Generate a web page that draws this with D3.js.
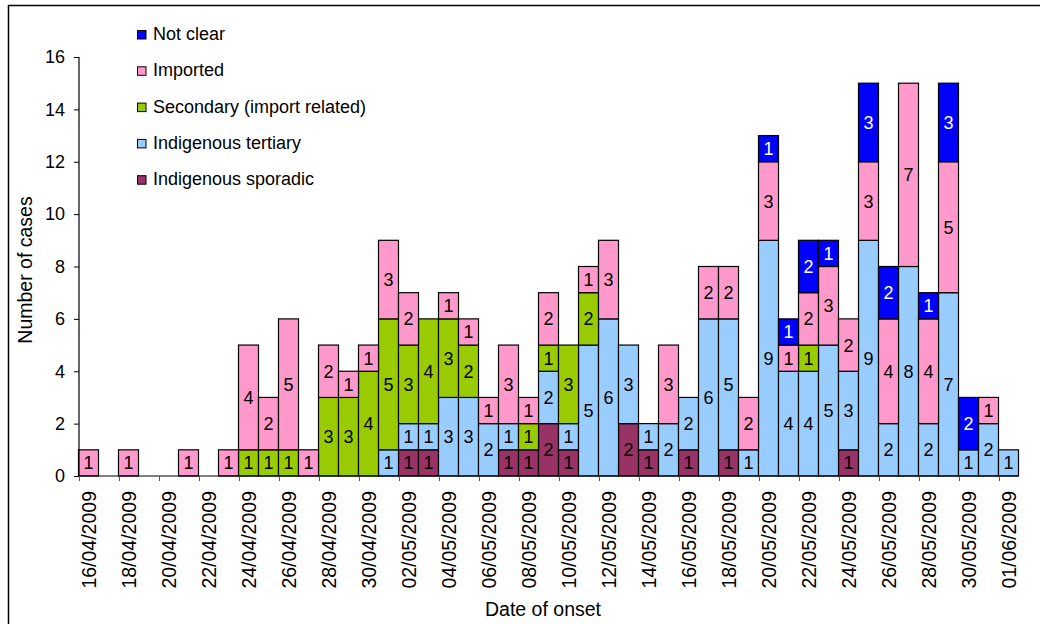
<!DOCTYPE html>
<html>
<head>
<meta charset="utf-8">
<script src="https://cdn.jsdelivr.net/npm/d3@7"></script>
<style>
  html, body { margin: 0; padding: 0; background: #fff; }
  svg { display: block; font-family: "Liberation Sans", Arial, sans-serif; }
</style>
</head>
<body>
<svg id="chart" width="1040" height="624"></svg>
<script>
const dates = [
  "16/04/2009","17/04/2009","18/04/2009","19/04/2009","20/04/2009","21/04/2009","22/04/2009","23/04/2009",
  "24/04/2009","25/04/2009","26/04/2009","27/04/2009","28/04/2009","29/04/2009","30/04/2009",
  "01/05/2009","02/05/2009","03/05/2009","04/05/2009","05/05/2009","06/05/2009","07/05/2009","08/05/2009",
  "09/05/2009","10/05/2009","11/05/2009","12/05/2009","13/05/2009","14/05/2009","15/05/2009","16/05/2009",
  "17/05/2009","18/05/2009","19/05/2009","20/05/2009","21/05/2009","22/05/2009","23/05/2009","24/05/2009",
  "25/05/2009","26/05/2009","27/05/2009","28/05/2009","29/05/2009","30/05/2009","31/05/2009","01/06/2009"
];
const seriesNames = ["Indigenous sporadic","Indigenous tertiary","Secondary (import related)","Imported","Not clear"];
const seriesColors = ["#993366","#99CCFF","#99CC00","#FF99CC","#0000FF"];
const labelColors = ["#000","#000","#000","#000","#fff"];

const sporadic  = [0,0,0,0,0,0,0,0, 0,0,0,0,0,0,0, 0,1,1,0,0,0,1,1, 2,1,0,0,2,1,0,1, 0,1,0,0,0,0,0,1, 0,0,0,0,0,0,0,0];
const tertiary  = [0,0,0,0,0,0,0,0, 0,0,0,0,0,0,0, 1,1,1,3,3,2,1,0, 2,1,5,6,3,1,2,2, 6,5,1,9,4,4,5,3, 9,2,8,2,7,1,2,1];
const secondary = [0,0,0,0,0,0,0,0, 1,1,1,0,3,3,4, 5,3,4,3,2,0,0,1, 1,3,2,0,0,0,0,0, 0,0,0,0,0,1,0,0, 0,0,0,0,0,0,0,0];
const imported  = [1,0,1,0,0,1,0,1, 4,2,5,1,2,1,1, 3,2,0,1,1,1,3,1, 2,0,1,3,0,0,3,0, 2,2,2,3,1,2,3,2, 3,4,7,4,5,0,1,0];
const notClear  = [0,0,0,0,0,0,0,0, 0,0,0,0,0,0,0, 0,0,0,0,0,0,0,0, 0,0,0,0,0,0,0,0, 0,0,0,1,1,2,1,0, 3,2,0,1,3,2,0,0];
const yTicks = [0,2,4,6,8,10,12,14,16];

const seriesData = [sporadic, tertiary, secondary, imported, notClear];
const table = dates.map((d, i) => {
  const row = { date: d };
  seriesNames.forEach((s, k) => row[s] = seriesData[k][i]);
  return row;
});

const svg = d3.select("#chart");

// outer border
svg.append("rect").attr("x", 8.5).attr("y", 5.5).attr("width", 1100).attr("height", 700)
  .attr("fill", "none").attr("stroke", "#000").attr("stroke-width", 1.5);

const x = d3.scaleBand().domain(dates).range([78.5, 1018.5]).paddingInner(0).paddingOuter(0);
const y = d3.scaleLinear().domain([0, 16]).range([476, 57]);

const stack = d3.stack().keys(seriesNames);
const layers = stack(table);

const g = svg.append("g");
layers.forEach((layer, k) => {
  const lg = g.append("g");
  layer.forEach((d, i) => {
    const v = d[1] - d[0];
    if (v <= 0) return;
    lg.append("rect")
      .attr("x", x(dates[i]))
      .attr("y", y(d[1]))
      .attr("width", x.bandwidth())
      .attr("height", y(d[0]) - y(d[1]))
      .attr("fill", seriesColors[k])
      .attr("stroke", "#000").attr("stroke-width", 1.2);
  });
});
layers.forEach((layer, k) => {
  layer.forEach((d, i) => {
    const v = d[1] - d[0];
    if (v <= 0) return;
    g.append("text")
      .attr("x", x(dates[i]) + x.bandwidth() / 2)
      .attr("y", (y(d[0]) + y(d[1])) / 2)
      .attr("dy", "0.36em")
      .attr("text-anchor", "middle")
      .attr("font-size", 18)
      .attr("fill", labelColors[k])
      .text(v);
  });
});

// Y axis
const yAxis = d3.axisLeft(y).tickValues(yTicks).tickSize(5).tickPadding(9);
const ya = svg.append("g").attr("transform", "translate(79,0)").call(yAxis);
ya.select(".domain").attr("stroke", "#000").attr("stroke-width", 1.2).attr("d", "M0,57V476");
ya.selectAll(".tick line").attr("stroke", "#000");
ya.selectAll(".tick text").attr("font-size", 18).attr("font-family", "Liberation Sans, Arial, sans-serif").attr("fill", "#000");

// X axis: ticks between categories every 2, labels every 2
const xa = svg.append("g").attr("transform", "translate(0,476)");
xa.append("line").attr("x1", 78.5).attr("x2", 1018.5).attr("y1", 0).attr("y2", 0)
  .attr("stroke", "#000").attr("stroke-width", 1.2);
dates.forEach((d, i) => {
  if (i % 2 !== 0) return;
  const xl = Math.round(x(d)) + 0.5;
  xa.append("line").attr("x1", xl).attr("x2", xl).attr("y1", 0).attr("y2", 5)
    .attr("stroke", "#555").attr("stroke-width", 1);
  xa.append("text")
    .attr("transform", `translate(${x(d) + x.bandwidth() / 2 + 7},15) rotate(-90)`)
    .attr("text-anchor", "end")
    .attr("font-size", 19.5)
    .attr("fill", "#000")
    .text(d);
});

// axis titles
svg.append("text").attr("transform", "translate(32,270) rotate(-90)")
  .attr("text-anchor", "middle").attr("font-size", 19.5).text("Number of cases");
svg.append("text").attr("x", 543).attr("y", 616)
  .attr("text-anchor", "middle").attr("font-size", 19.5).text("Date of onset");

// legend (reverse order)
const legendOrder = [4, 3, 2, 1, 0];
legendOrder.forEach((k, r) => {
  const by = 40 + r * 36.3;
  svg.append("rect").attr("x", 137.5).attr("y", by - 9.5).attr("width", 8.5).attr("height", 8.5)
    .attr("fill", seriesColors[k]).attr("stroke", "#000").attr("stroke-width", 1);
  svg.append("text").attr("x", 153).attr("y", by).attr("font-size", 18).text(seriesNames[k]);
});
</script>
</body>
</html>
